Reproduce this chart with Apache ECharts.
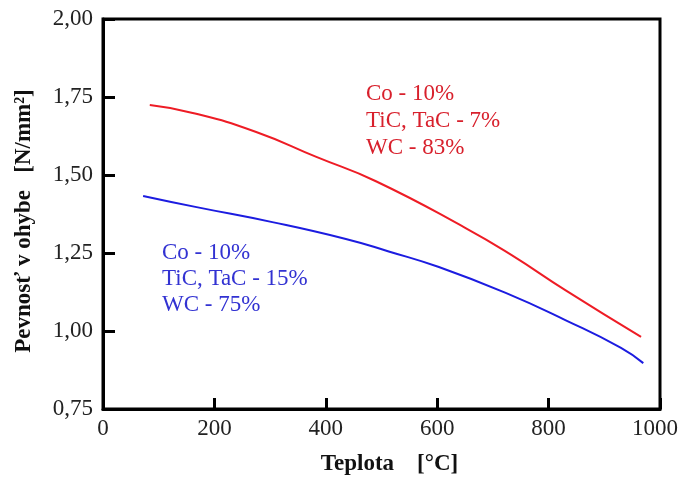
<!DOCTYPE html>
<html>
<head>
<meta charset="utf-8">
<script src="https://cdn.jsdelivr.net/npm/echarts@6/dist/echarts.min.js"></script>
<style>
  html, body { margin: 0; padding: 0; background: #fff; }
  #chart { width: 680px; height: 478px; }
</style>
</head>
<body>
<div id="chart"></div>
<script>
// Bending strength of sintered carbides vs. temperature
const tempRed = [84, 161, 275, 383, 490, 651, 733, 830, 966];
const strengthRed = [1.724, 1.699, 1.638, 1.558, 1.480, 1.330, 1.244, 1.131, 0.981];

const tempBlue = [72, 168, 304, 436, 513, 603, 723, 830, 930, 970];
const strengthBlue = [1.433, 1.397, 1.349, 1.295, 1.255, 1.205, 1.122, 1.035, 0.946, 0.897];

const labelRed = ['Co - 10%', 'TiC, TaC - 7%', 'WC - 83%'];
const labelBlue = ['Co - 10%', 'TiC, TaC - 15%', 'WC - 75%'];

const xTitle = 'Teplota    [°C]';
const yTitle = 'Pevnosť v ohybe   [N/mm²]';

const serif = '"Liberation Serif", "Times New Roman", serif';
const redLine = '#ee1c25', redText = '#d8202c';
const blueLine = '#1c1ce0', blueText = '#3232d2';

const pairs = (xs, ys) => xs.map((x, i) => [x, ys[i]]);

const chart = echarts.init(document.getElementById('chart'));
chart.setOption({
  animation: false,
  backgroundColor: '#fff',
  grid: {
    left: 103, right: 20, top: 19, bottom: 69,
    containLabel: false, outerBoundsMode: 'none',
    show: true, borderColor: '#000', borderWidth: 3
  },
  xAxis: {
    type: 'value', min: 0, max: 1000, interval: 200,
    name: xTitle, nameLocation: 'middle', nameGap: 44,
    nameTextStyle: { fontFamily: serif, fontSize: 23, fontWeight: 'bold', color: '#111', padding: [0, 0, 0, 16] },
    axisLine: { show: true, lineStyle: { color: '#000', width: 3 } },
    axisTick: { show: true, inside: true, length: 11, lineStyle: { color: '#000', width: 3 } },
    axisLabel: {
      fontFamily: serif, fontSize: 23, color: '#222', margin: 8,
      // keep the last label inside the canvas
      formatter: v => (v === 1000 ? '{end|' + v + '}' : String(v)),
      rich: { end: { fontFamily: serif, fontSize: 23, color: '#222', padding: [0, 10, 0, 0] } }
    },
    splitLine: { show: false }
  },
  yAxis: {
    type: 'value', min: 0.75, max: 2.0, interval: 0.25,
    name: yTitle, nameLocation: 'middle', nameGap: 67, nameRotate: 90,
    nameTextStyle: { fontFamily: serif, fontSize: 23, fontWeight: 'bold', color: '#111', padding: [0, 14, 0, 0] },
    axisLine: { show: true, lineStyle: { color: '#000', width: 3 } },
    axisTick: { show: true, inside: true, length: 12, lineStyle: { color: '#000', width: 3 } },
    axisLabel: {
      fontFamily: serif, fontSize: 23, color: '#222', margin: 10,
      formatter: v => v.toFixed(2).replace('.', ',')
    },
    splitLine: { show: false }
  },
  series: [
    {
      type: 'line', smooth: 0.5, showSymbol: false,
      lineStyle: { color: redLine, width: 2 },
      data: pairs(tempRed, strengthRed)
    },
    {
      type: 'line', smooth: 0.5, showSymbol: false,
      lineStyle: { color: blueLine, width: 2 },
      data: pairs(tempBlue, strengthBlue)
    }
  ],
  graphic: [
    {
      type: 'text', left: 366, top: 80,
      style: { text: labelRed.join('\n'), fill: redText, font: '23px ' + serif, lineHeight: 27 }
    },
    {
      type: 'text', left: 162, top: 240,
      style: { text: labelBlue.join('\n'), fill: blueText, font: '23px ' + serif, lineHeight: 26 }
    }
  ]
});
</script>
</body>
</html>
